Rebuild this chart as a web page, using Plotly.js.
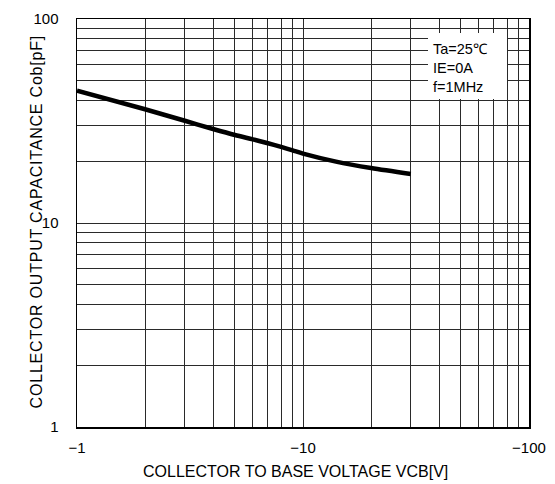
<!DOCTYPE html>
<html>
<head>
<meta charset="utf-8">
<script src="https://cdn.plot.ly/plotly-3.0.1.min.js"></script>
<style>
html,body{margin:0;padding:0;background:#fff;}
#chart{width:555px;height:484px;}
</style>
</head>
<body>
<div id="chart"></div>
<script>
// Collector-to-base voltage magnitude |VCB| [V]
var vcb = [1, 2, 3, 4, 5, 6, 7, 8, 9, 10, 14, 20, 30];
// Collector output capacitance Cob [pF]
var cob = [44.5, 36.1, 31.7, 28.9, 27.0, 25.7, 24.6, 23.6, 22.7, 21.9, 20.0, 18.6, 17.4];

var xTickVals = [1,2,3,4,5,6,7,8,9,10,20,30,40,50,60,70,80,90,100];
var xTickText = ['\u22121','','','','','','','','','\u221210','','','','','','','','','\u2212100'];
var yTickVals = [1,2,3,4,5,6,7,8,9,10,20,30,40,50,60,70,80,90,100];
var yTickText = ['1','','','','','','','','','10','','','','','','','','','100'];

var conditions = ['Ta=25\u2103', 'IE=0A', 'f=1MHz'];
var xTitle = 'COLLECTOR TO BASE VOLTAGE VCB[V]';
var yTitle = 'COLLECTOR OUTPUT CAPACITANCE Cob[pF]';

var FONT = 'Liberation Sans, Arial, sans-serif';

var trace = {
  x: vcb, y: cob,
  type: 'scatter', mode: 'lines',
  line: {color: '#000', width: 4.5, shape: 'spline', smoothing: 0.8},
  hoverinfo: 'skip', showlegend: false
};

var layout = {
  width: 555, height: 484,
  margin: {l: 77, r: 26, t: 19, b: 57},
  paper_bgcolor: '#fff', plot_bgcolor: '#fff',
  font: {family: FONT, size: 13, color: '#000'},
  xaxis: {
    type: 'log', range: [0, 2],
    tickmode: 'array', tickvals: xTickVals, ticktext: xTickText,
    showgrid: true, gridcolor: '#2a2a2a', gridwidth: 1,
    showline: true, linecolor: '#000', linewidth: 1.5, mirror: true,
    ticks: '', ticklabelstandoff: 6,
    zeroline: false,
    tickfont: {family: FONT, size: 15, color: '#000'}
  },
  yaxis: {
    type: 'log', range: [0, 2],
    tickmode: 'array', tickvals: yTickVals, ticktext: yTickText,
    showgrid: true, gridcolor: '#2a2a2a', gridwidth: 1,
    showline: true, linecolor: '#000', linewidth: 1.5, mirror: true,
    ticks: '', ticklabelstandoff: 14,
    zeroline: false,
    tickfont: {family: FONT, size: 15, color: '#000'}
  },
  shapes: [{
    type: 'rect', xref: 'paper', yref: 'paper',
    x0: (428-77)/452, x1: (507-77)/452,
    y0: (427-99)/408, y1: (427-33)/408,
    fillcolor: '#fff', line: {width: 0}, layer: 'above'
  }],
  annotations: [{
    xref: 'paper', yref: 'paper',
    x: (431-77)/452, y: (427-39)/408,
    xanchor: 'left', yanchor: 'top', align: 'left',
    showarrow: false,
    text: conditions.join('<br>'),
    font: {family: FONT, size: 14.5, color: '#000'}
  }, {
    xref: 'paper', yref: 'paper',
    x: (295-77)/452, y: (427-471)/408,
    xanchor: 'center', yanchor: 'middle',
    showarrow: false, text: xTitle,
    font: {family: FONT, size: 16, color: '#000'}
  }, {
    xref: 'paper', yref: 'paper',
    x: (36-77)/452, y: (427-222)/408,
    xanchor: 'center', yanchor: 'middle', textangle: -90,
    showarrow: false, text: yTitle,
    font: {family: FONT, size: 16, color: '#000'}
  }]
};

Plotly.newPlot('chart', [trace], layout, {displayModeBar: false, staticPlot: true}).then(function(){
  var anns = document.querySelectorAll('.annotation-text');
  if (anns.length) {
    anns[anns.length - 1].style.letterSpacing = '0.8px';
  }
});
</script>
</body>
</html>
